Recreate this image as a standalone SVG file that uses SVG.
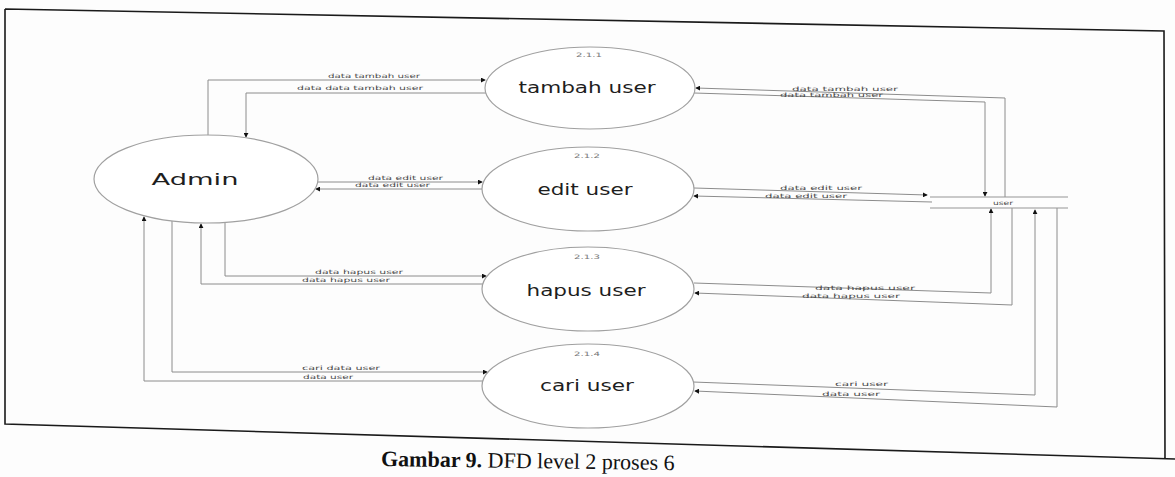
<svg xmlns="http://www.w3.org/2000/svg" width="1175" height="477" viewBox="0 0 1175 477">
  <style>
    .flow { fill: none; stroke: #8c8c8c; stroke-width: 1; }
    .proc { fill: #fff; stroke: #a0a0a0; stroke-width: 1.2; }
    .store { fill: none; stroke: #959595; stroke-width: 1; }
    .lbl { font-family: "DejaVu Sans", sans-serif; font-size: 6px; fill: #4a4a4a; }
    .pnum { font-family: "DejaVu Sans", sans-serif; font-size: 6px; fill: #777; }
    .pname { font-family: "DejaVu Sans", sans-serif; font-size: 16px; fill: #1e1e1e; }
    .frame { fill: none; stroke: #1a1a1a; stroke-width: 1.6; }
    .cap { font-family: "Liberation Serif", serif; font-size: 22px; fill: #111; }
  </style>
  <defs>
    <marker id="arr" viewBox="0 0 6 6" refX="5" refY="3" markerWidth="5" markerHeight="5" markerUnits="userSpaceOnUse" orient="auto">
      <path d="M0,0 L6,3 L0,6 z" fill="#111"/>
    </marker>
  </defs>

  <rect width="1175" height="477" fill="#fdfdfd"/>

  <!-- page frame -->
  <path class="frame" d="M5,9 L1164,31 L1165,458 M5,9 L5,424 L1175,459"/>

  <!-- connectors -->
  <g id="connectors">
    <!-- Admin <-> tambah user -->
    <path class="flow" d="M208,135 L208,80 L485,80" marker-end="url(#arr)"/>
    <path class="flow" d="M486,93 L246,93 L246,137" marker-end="url(#arr)"/>
    <!-- Admin <-> edit user -->
    <path class="flow" d="M318,182 L482,182" marker-end="url(#arr)"/>
    <path class="flow" d="M482,189 L316,189" marker-end="url(#arr)"/>
    <!-- Admin <-> hapus user -->
    <path class="flow" d="M225,222 L225,276 L486,276" marker-end="url(#arr)"/>
    <path class="flow" d="M483,284 L201,284 L201,224" marker-end="url(#arr)"/>
    <!-- Admin <-> cari user -->
    <path class="flow" d="M172,221 L172,372 L487,372" marker-end="url(#arr)"/>
    <path class="flow" d="M483,381 L144,381 L144,217" marker-end="url(#arr)"/>

    <!-- user store <-> tambah user -->
    <path class="flow" d="M1005,197 L1005,98 L696,88" marker-end="url(#arr)"/>
    <path class="flow" d="M694,93 L985,102 L985,196" marker-end="url(#arr)"/>
    <!-- user store <-> edit user -->
    <path class="flow" d="M694,188 L927,195" marker-end="url(#arr)"/>
    <path class="flow" d="M932,202 L694,196" marker-end="url(#arr)"/>
    <!-- user store <-> hapus user -->
    <path class="flow" d="M694,283 L991,293 L991,209" marker-end="url(#arr)"/>
    <path class="flow" d="M1012,208 L1012,305 L695,293" marker-end="url(#arr)"/>
    <!-- user store <-> cari user -->
    <path class="flow" d="M693,382 L1035,395 L1035,210" marker-end="url(#arr)"/>
    <path class="flow" d="M1057,208 L1057,407 L695,391" marker-end="url(#arr)"/>

    <!-- flow labels -->
    <text class="lbl" x="328" y="78" textLength="92" lengthAdjust="spacingAndGlyphs">data tambah user</text>
    <text class="lbl" x="297" y="90" textLength="126" lengthAdjust="spacingAndGlyphs">data data tambah user</text>
    <text class="lbl" x="368" y="180" textLength="75" lengthAdjust="spacingAndGlyphs">data edit user</text>
    <text class="lbl" x="355" y="187" textLength="75" lengthAdjust="spacingAndGlyphs">data edit user</text>
    <text class="lbl" x="315" y="274" textLength="88" lengthAdjust="spacingAndGlyphs">data hapus user</text>
    <text class="lbl" x="302" y="282" textLength="88" lengthAdjust="spacingAndGlyphs">data hapus user</text>
    <text class="lbl" x="302" y="370" textLength="78" lengthAdjust="spacingAndGlyphs">cari data user</text>
    <text class="lbl" x="303" y="379" textLength="50" lengthAdjust="spacingAndGlyphs">data user</text>

    <text class="lbl" x="792" y="91" textLength="106" lengthAdjust="spacingAndGlyphs">data tambah user</text>
    <text class="lbl" x="780" y="97" textLength="103" lengthAdjust="spacingAndGlyphs">data tambah user</text>
    <text class="lbl" x="780" y="190" textLength="82" lengthAdjust="spacingAndGlyphs">data edit user</text>
    <text class="lbl" x="765" y="198" textLength="82" lengthAdjust="spacingAndGlyphs">data edit user</text>
    <text class="lbl" x="815" y="290" textLength="100" lengthAdjust="spacingAndGlyphs">data hapus user</text>
    <text class="lbl" x="802" y="298" textLength="98" lengthAdjust="spacingAndGlyphs">data hapus user</text>
    <text class="lbl" x="835" y="386" textLength="53" lengthAdjust="spacingAndGlyphs">cari user</text>
    <text class="lbl" x="822" y="396" textLength="58" lengthAdjust="spacingAndGlyphs">data user</text>
  </g>

  <!-- external entity -->
  <g id="admin">
    <ellipse class="proc" cx="206" cy="179" rx="112" ry="44"/>
    <text class="pname" x="151.5" y="184.5" font-size="15" textLength="87" lengthAdjust="spacingAndGlyphs">Admin</text>
  </g>

  <!-- processes -->
  <g id="p211">
    <ellipse class="proc" cx="590" cy="88" rx="105" ry="41"/>
    <text class="pnum" x="576" y="57" textLength="26" lengthAdjust="spacingAndGlyphs">2.1.1</text>
    <text class="pname" x="518.5" y="93" textLength="137" lengthAdjust="spacingAndGlyphs">tambah user</text>
  </g>
  <g id="p212">
    <ellipse class="proc" cx="588" cy="189" rx="106" ry="42"/>
    <text class="pnum" x="574" y="158" textLength="26" lengthAdjust="spacingAndGlyphs">2.1.2</text>
    <text class="pname" x="537.5" y="195" textLength="95" lengthAdjust="spacingAndGlyphs">edit user</text>
  </g>
  <g id="p213">
    <ellipse class="proc" cx="588" cy="289" rx="106" ry="42"/>
    <text class="pnum" x="574" y="259" textLength="26" lengthAdjust="spacingAndGlyphs">2.1.3</text>
    <text class="pname" x="526.5" y="296" textLength="119" lengthAdjust="spacingAndGlyphs">hapus user</text>
  </g>
  <g id="p214">
    <ellipse class="proc" cx="588" cy="386" rx="106" ry="42"/>
    <text class="pnum" x="574" y="356" textLength="26" lengthAdjust="spacingAndGlyphs">2.1.4</text>
    <text class="pname" x="540" y="391" textLength="94" lengthAdjust="spacingAndGlyphs">cari user</text>
  </g>

  <!-- data store -->
  <g id="store-user">
    <path class="store" d="M930,197 L1068,197 M930,208 L1068,208"/>
    <text class="lbl" x="993" y="205" textLength="20" lengthAdjust="spacingAndGlyphs">user</text>
  </g>

  <!-- caption -->
  <text class="cap" x="381" y="466" transform="rotate(0.8 381 466)"><tspan font-weight="bold">Gambar 9.</tspan> DFD level 2 proses 6</text>
</svg>
